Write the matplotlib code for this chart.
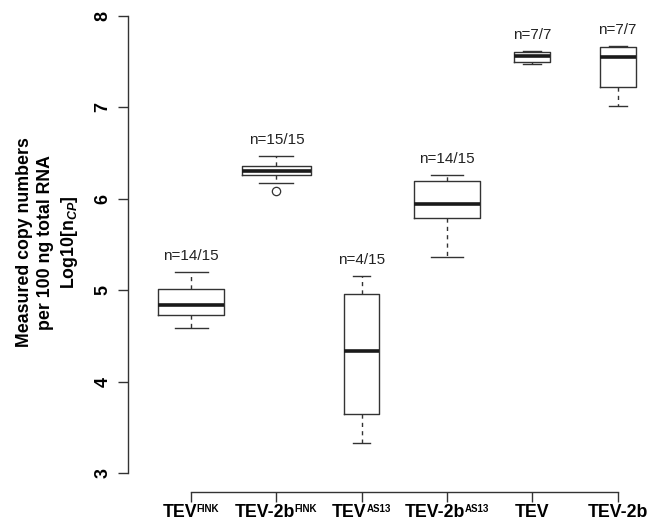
import matplotlib
matplotlib.use("Agg")
import matplotlib.pyplot as plt
import numpy as np

# --- data ---
groups = ["TEV", "TEV-2b", "TEV", "TEV-2b", "TEV", "TEV-2b"]
group_sup = ["FINK", "FINK", "AS13", "AS13", "", ""]
counts = ["n=14/15", "n=15/15", "n=4/15", "n=14/15", "n=7/7", "n=7/7"]
whis_lo = [4.59, 6.17, 3.33, 5.36, 7.47, 7.01]
q1 = [4.73, 6.26, 3.64, 5.79, 7.50, 7.22]
medians = [4.84, 6.30, 4.34, 5.94, 7.56, 7.55]
q3 = [5.01, 6.36, 4.96, 6.19, 7.61, 7.66]
whis_hi = [5.20, 6.47, 5.16, 6.26, 7.62, 7.67]
outliers = [[], [6.09], [], [], [], []]

# box widths (varwidth style)
box_w = [0.77, 0.80, 0.41, 0.77, 0.42, 0.42]

plt.rcParams["font.family"] = ["Liberation Sans", "DejaVu Sans"]
plt.rcParams["mathtext.fontset"] = "custom"
plt.rcParams["mathtext.rm"] = "Liberation Sans:bold"
plt.rcParams["mathtext.bf"] = "Liberation Sans:bold"
plt.rcParams["mathtext.it"] = "Liberation Sans:bold:italic"

W, H = 662, 522
fig = plt.figure(figsize=(W / 100, H / 100), dpi=100)
ax = fig.add_axes([128 / W, 30 / H, 534 / W, 492 / H])

stats = []
for i in range(len(groups)):
    stats.append({
        "med": medians[i], "q1": q1[i], "q3": q3[i],
        "whislo": whis_lo[i], "whishi": whis_hi[i],
        "fliers": outliers[i],
    })

pos = np.arange(1, len(groups) + 1)
edge = "#333333"
ax.bxp(stats, positions=pos, widths=box_w, capwidths=[w / 2 for w in box_w],
       showfliers=True,
       boxprops=dict(color=edge, linewidth=1.0),
       whiskerprops=dict(color=edge, linewidth=1.0, linestyle=(0, (3, 3))),
       capprops=dict(color=edge, linewidth=1.0),
       medianprops=dict(color="#1a1a1a", linewidth=2.6, solid_capstyle="butt"),
       flierprops=dict(marker="o", markerfacecolor="none", markeredgecolor=edge,
                       markersize=6, markeredgewidth=0.9))

for i, txt in enumerate(counts):
    ax.annotate(txt, (pos[i], whis_hi[i]), xytext=(0, 11.5), textcoords="offset points",
                ha="center", va="center", fontsize=11, color="#222222")

ax.set_xlim(0.26, 6.52)
ax.set_ylim(2.792, 8.175)

for s in ["top", "right"]:
    ax.spines[s].set_visible(False)
ax.spines["left"].set_bounds(3, 8)
ax.spines["bottom"].set_bounds(1, 6)
for s in ["left", "bottom"]:
    ax.spines[s].set_color(edge)
    ax.spines[s].set_linewidth(1.0)

ax.set_yticks([3, 4, 5, 6, 7, 8])
ax.set_yticklabels(["3", "4", "5", "6", "7", "8"], rotation=90, va="center",
                   fontsize=13, fontweight="bold")
ax.set_xticks(pos)
ax.set_xticklabels([])
ax.tick_params(axis="both", direction="out", length=7, width=1.0, color=edge)
ax.tick_params(axis="y", pad=5)

# x labels with small superscripts, centred on the ticks
renderer = fig.canvas.get_renderer()
base_y = (H - 517) / H
sup_y = (H - 511.8) / H
for i in range(len(groups)):
    t1 = fig.text(0, base_y, groups[i], fontsize=12.8, fontweight="bold",
                  ha="left", va="baseline")
    w1 = t1.get_window_extent(renderer).width
    w2 = 0
    t2 = None
    if group_sup[i]:
        t2 = fig.text(0, sup_y, group_sup[i], fontsize=7, fontweight="bold",
                      ha="left", va="baseline")
        w2 = t2.get_window_extent(renderer).width
    xc = ax.transData.transform((pos[i], 0))[0]
    x0 = xc - (w1 + w2) / 2
    t1.set_x(x0 / W)
    if t2 is not None:
        t2.set_x((x0 + w1 - 0.5) / W)

fig.text(48 / W, (H - 242) / H,
         "Measured copy numbers\nper 100 ng total RNA\nLog10[n$_{\\mathit{CP}}$]",
         rotation=90, ha="center", va="center", multialignment="center",
         fontsize=12.8, fontweight="bold", linespacing=1.35)

fig.savefig("out.png", dpi=100)
